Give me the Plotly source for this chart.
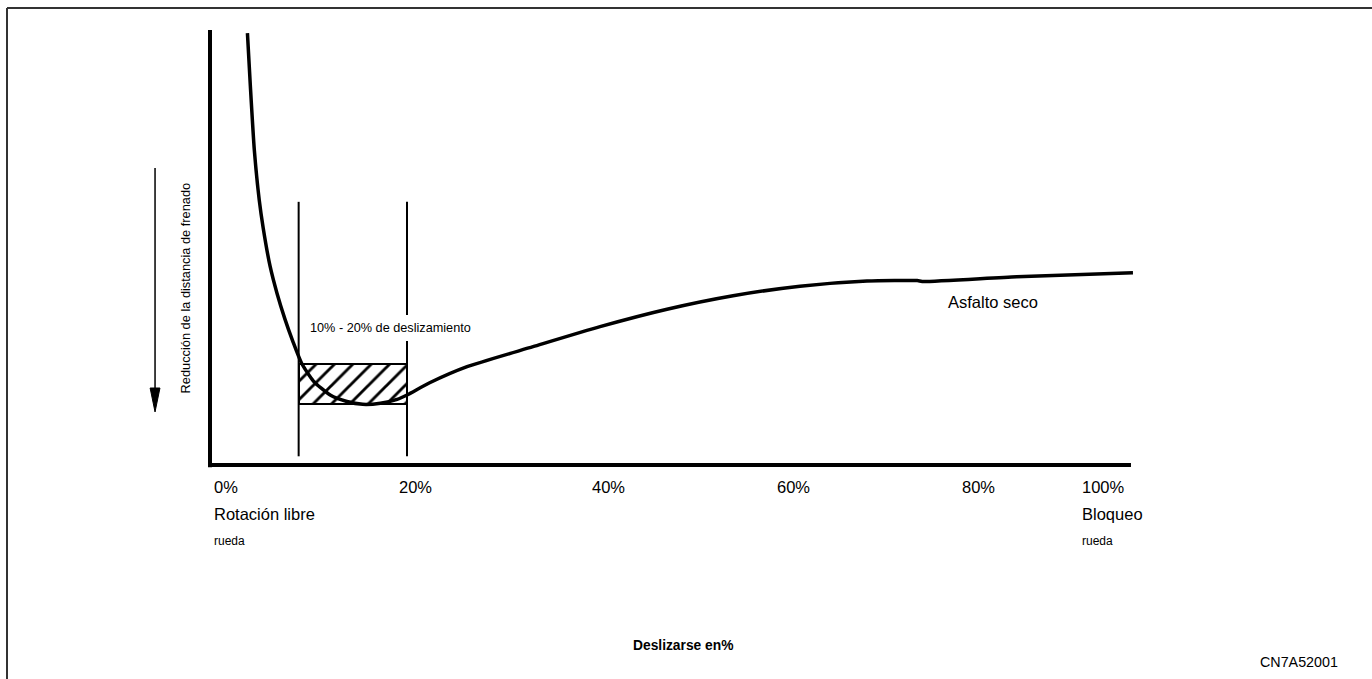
import plotly.graph_objects as go

# Wheel slip (%) against braking-distance level (arbitrary units, 0 = x axis, 100 = top of y axis)
slip = [3.8, 4.1, 4.5, 5.0, 5.4, 6.1, 6.8, 7.6, 8.4, 9.3, 10.5, 12.2, 13.9, 15.5, 17.3, 19.0, 20.0,
        22.3, 26.1, 32.8, 39.6, 46.4, 53.1, 59.9, 66.7, 71.8, 72.3, 81.9, 93.7]
level = [99.3, 87.0, 72.4, 60.9, 54.5, 45.7, 39.5, 33.6, 28.5, 23.4, 19.3, 16.1, 14.6, 13.95, 14.2, 15.1, 16.1,
         18.9, 22.6, 27.2, 31.8, 35.8, 38.9, 41.1, 42.3, 42.4, 42.2, 43.3, 44.2]

# Optimal slip window and its hatched band
band_slip = [9.0, 20.0]
band_level = [14.0, 23.2]
window_level = [2.0, 60.5]

# X-axis labels
tick_slip = [0.2, 19.0, 38.6, 57.4, 76.1, 88.3]
tick_text = ["0%", "20%", "40%", "60%", "80%", "100%"]

axis_top = 100.0
axis_end = 93.5

# Canvas geometry: pixel origin of the chart and scale of each axis
W, H = 1372, 679
X0, PX_X = 210.0, 9.85
Y0, PX_Y = 465.0, 4.35
xr = [-X0 / PX_X, (W - X0) / PX_X]
yr = [(Y0 - H) / PX_Y, Y0 / PX_Y]

FONT = "Liberation Sans, Arial, sans-serif"
INK = "#000000"

fig = go.Figure()

# Hatched band between 10% and 20% slip
fig.add_trace(go.Bar(
    x=[(band_slip[0] + band_slip[1]) / 2], y=[band_level[1] - band_level[0]], base=[band_level[0]],
    width=[band_slip[1] - band_slip[0]],
    marker=dict(color="white", line=dict(color=INK, width=2),
                pattern=dict(shape="/", fgcolor=INK, fgopacity=1, bgcolor="white", size=13, solidity=0.22)),
    hoverinfo="skip", showlegend=False,
))

# Dry asphalt curve
fig.add_trace(go.Scatter(
    x=slip, y=level, mode="lines",
    line=dict(color=INK, width=3.5, shape="spline", smoothing=0.6),
    hoverinfo="skip", showlegend=False,
))

shapes = []
# Slip window boundaries
for s in band_slip:
    shapes.append(dict(type="line", xref="x", yref="y", x0=s, x1=s, y0=window_level[0], y1=window_level[1],
                       line=dict(color=INK, width=2), layer="below"))
# Axes
shapes.append(dict(type="line", xref="x", yref="y", x0=0, x1=0, y0=-0.5, y1=axis_top,
                   line=dict(color=INK, width=4)))
shapes.append(dict(type="line", xref="x", yref="y", x0=-0.2, x1=axis_end, y0=0, y1=0,
                   line=dict(color=INK, width=4)))
# Direction arrow beside the y-axis title
ax_s, ar_top, ar_tip, head_len, head_half = -5.58, 68.3, 12.2, 5.5, 0.5
shapes.append(dict(type="line", xref="x", yref="y", x0=ax_s, x1=ax_s, y0=ar_top, y1=ar_tip + head_len * 0.5,
                   line=dict(color=INK, width=1.5)))
shapes.append(dict(type="path", xref="x", yref="y",
                   path=f"M{ax_s - head_half},{ar_tip + head_len} L{ax_s + head_half},{ar_tip + head_len} "
                        f"L{ax_s},{ar_tip} Z",
                   fillcolor=INK, line=dict(color=INK, width=1)))
# Outer frame
shapes.append(dict(type="line", xref="paper", yref="paper", x0=7 / W, x1=1.01, y0=1 - 8 / H, y1=1 - 8 / H,
                   line=dict(color="#333333", width=2)))
shapes.append(dict(type="line", xref="paper", yref="paper", x0=7 / W, x1=7 / W, y0=-0.01, y1=1 - 8 / H,
                   line=dict(color="#333333", width=2)))

annotations = []
for s, t in zip(tick_slip, tick_text):
    annotations.append(dict(x=s, y=-5.17, text=t, xanchor="left", yanchor="middle", showarrow=False,
                            font=dict(size=16.5, family=FONT, color=INK)))
for s, t in [(0.2, "Rotación libre"), (88.3, "Bloqueo")]:
    annotations.append(dict(x=s, y=-11.3, text=t, xanchor="left", yanchor="middle", showarrow=False,
                            font=dict(size=16.5, family=FONT, color=INK)))
    annotations.append(dict(x=s, y=-17.4, text="rueda", xanchor="left", yanchor="middle", showarrow=False,
                            font=dict(size=12, family=FONT, color=INK)))

annotations += [
    dict(x=79.5, y=37.4, text="Asfalto seco", showarrow=False,
         font=dict(size=16.5, family=FONT, color=INK)),
    dict(x=9.54, y=31.6, text="10% - 20% de deslizamiento", xanchor="left", yanchor="middle", showarrow=False,
         bgcolor="white", borderpad=6, borderwidth=0,
         font=dict(size=12.7, family=FONT, color=INK)),
    dict(x=-2.49, y=40.7, text="Reducción de la distancia de frenado", textangle=-90, showarrow=False,
         font=dict(size=12.8, family=FONT, color=INK)),
    dict(x=48.0, y=-41.5, text="<b>Deslizarse en%</b>", showarrow=False,
         font=dict(size=13.8, family=FONT, color=INK)),
    dict(x=110.56, y=-45.3, text="CN7A52001", showarrow=False,
         font=dict(size=14.3, family=FONT, color=INK)),
]

fig.update_layout(
    width=W, height=H,
    margin=dict(l=0, r=0, t=0, b=0, pad=0),
    paper_bgcolor="white", plot_bgcolor="white",
    xaxis=dict(range=xr, visible=False, fixedrange=True),
    yaxis=dict(range=yr, visible=False, fixedrange=True),
    shapes=shapes, annotations=annotations,
    showlegend=False, bargap=0,
)

fig.write_html("out.html")
